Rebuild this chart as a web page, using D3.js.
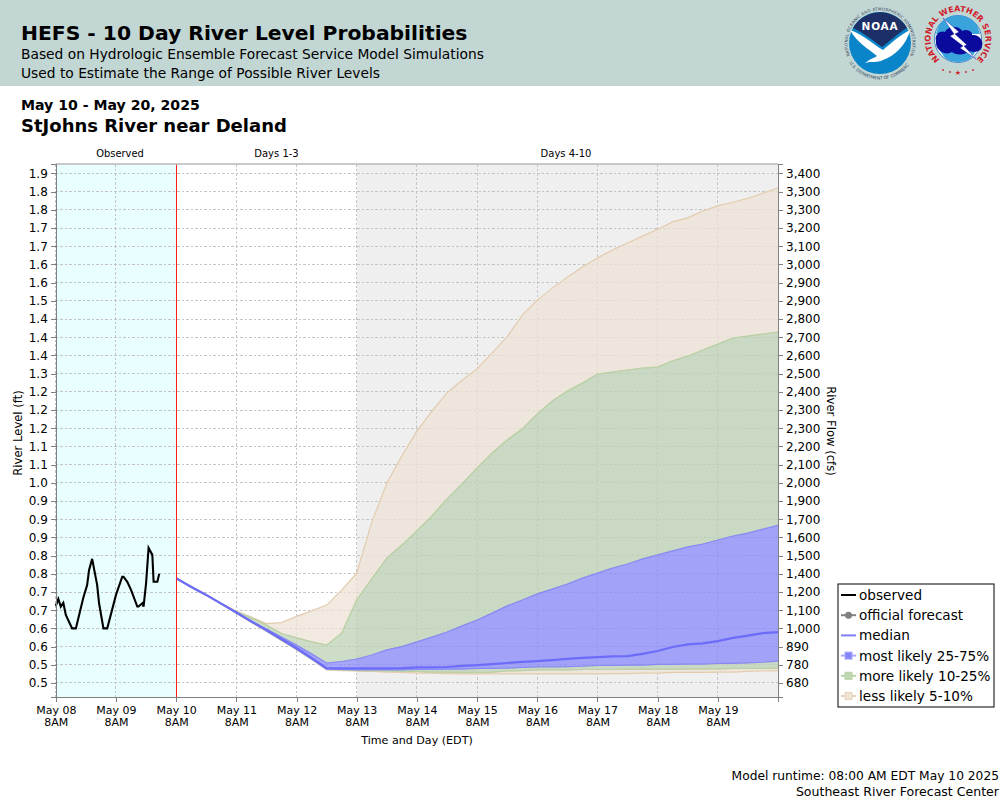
<!DOCTYPE html>
<html>
<head>
<meta charset="utf-8">
<title>HEFS - 10 Day River Level Probabilities</title>
<script src="https://cdn.jsdelivr.net/npm/d3@7"></script>
<style>
html, body { margin: 0; padding: 0; background: #fff; }
svg { display: block; font-family: "DejaVu Sans", sans-serif; }
.grid line { stroke: #c4c4c4; stroke-width: 1; stroke-dasharray: 2.5 2; shape-rendering: crispEdges; }
.axis text { font-size: 12px; fill: #000; font-family: "DejaVu Sans", sans-serif; }
.axis line, .axis path { stroke: #808080; stroke-width: 1; shape-rendering: crispEdges; }
.axis path { stroke-width: 1.5; }
</style>
</head>
<body>
<svg id="chart" width="1000" height="800"></svg>
<script>
// tick labels, bottom to top (they come rounded like this on the original)
var levelLabels = ["0.5","0.5","0.6","0.6","0.7","0.7","0.8","0.8","0.9","0.9","0.9","1.0","1.1","1.1","1.2","1.2","1.2","1.3","1.4","1.4","1.4","1.5","1.6","1.6","1.7","1.7","1.8","1.8","1.9"];
var flowLabels = ["680","780","890","1,000","1,100","1,200","1,400","1,500","1,600","1,700","1,900","2,000","2,100","2,200","2,300","2,300","2,400","2,500","2,600","2,700","2,800","2,900","2,900","3,000","3,100","3,200","3,300","3,300","3,400"];
var dayLabels = ["May 08","May 09","May 10","May 11","May 12","May 13","May 14","May 15","May 16","May 17","May 18","May 19"];

// observed stage: hours after May 08 8AM, and feet
var obsHours = [0,1,2,3,4,6.5,8,11,12.5,13.25,14.5,16.5,17.25,19,20.5,24,26.5,27,28.5,30,32.5,33,34.5,35,36,37,38.5,39,40.5,41.25];
var obsLevel = [.712,.731,.710,.720,.687,.650,.650,.735,.769,.810,.841,.769,.719,.650,.650,.742,.792,.792,.778,.756,.710,.710,.719,.710,.774,.871,.852,.778,.778,.800];

// forecast percentiles in feet, one value every 6 hours from May 10 8AM
var p95 = [.788,.765,.742,.718,.698,.681,.663,.666,.683,.698,.714,.755,.802,.942,1.049,1.124,1.192,1.247,1.297,1.332,1.363,1.407,1.451,1.511,1.552,1.585,1.615,1.643,1.668,1.690,1.709,1.728,1.747,1.767,1.778,1.797,1.811,1.821,1.832,1.846,1.860];
var p90 = [.788,.765,.742,.718,.696,.679,.659,.636,.624,.613,.604,.637,.728,.786,.843,.879,.918,.959,1.006,1.047,1.091,1.132,1.168,1.198,1.239,1.275,1.302,1.324,1.349,1.354,1.360,1.365,1.368,1.385,1.398,1.415,1.431,1.448,1.453,1.459,1.464];
var p75 = [.788,.765,.742,.718,.695,.670,.648,.626,.604,.580,.555,.559,.566,.577,.591,.600,.613,.626,.640,.657,.673,.692,.712,.728,.745,.758,.772,.788,.802,.816,.827,.841,.852,.863,.874,.882,.893,.904,.912,.923,.933];
var median = [.788,.764,.742,.718,.694,.669,.646,.621,.596,.569,.541,.540,.540,.540,.540,.541,.543,.543,.544,.547,.549,.552,.555,.558,.560,.563,.566,.569,.571,.573,.574,.580,.588,.599,.606,.609,.615,.624,.630,.637,.640];
var p25 = [.788,.764,.741,.717,.692,.668,.643,.618,.593,.566,.538,.537,.536,.536,.536,.536,.537,.537,.538,.538,.540,.540,.541,.543,.544,.544,.545,.546,.548,.548,.549,.549,.551,.551,.552,.552,.554,.554,.555,.557,.560];
var p10 = [.788,.764,.741,.717,.692,.667,.642,.617,.592,.565,.537,.536,.534,.533,.533,.532,.532,.530,.530,.529,.529,.530,.533,.534,.536,.536,.536,.537,.537,.537,.538,.538,.538,.538,.539,.539,.539,.540,.540,.540,.541];
var p05 = [.788,.764,.741,.717,.692,.667,.642,.617,.592,.565,.536,.534,.533,.532,.530,.529,.527,.527,.526,.525,.525,.525,.525,.525,.525,.525,.525,.525,.525,.526,.526,.527,.527,.529,.529,.529,.530,.530,.532,.533,.534];

var legendRows = ["observed","official forecast","median","most likely 25-75%","more likely 10-25%","less likely 5-10%"];

var TAN = "#ede3d5", TAN_LINE = "#e3cbae";
var GREEN = "#bed2b6", GREEN_LINE = "#b6d2a6";
var BLUE = "#8888fc", BLUE_LINE = "#8a8af6";

var svg = d3.select("#chart");
var left = 55.8, right = 778, top_ = 164, bottom = 697;

function hoursFrom(start, h) { return new Date(start.getTime() + h * 3600000); }
var start = new Date(Date.UTC(2025, 4, 8, 8));
var forecastStart = new Date(Date.UTC(2025, 4, 10, 8));
var days4 = new Date(Date.UTC(2025, 4, 13, 8));

var x = d3.scaleUtc().domain([start, new Date(Date.UTC(2025, 4, 20, 8))]).range([left, right]);
var y = d3.scaleLinear().domain([0.4615, 1.9261]).range([bottom, top_]);

var levelTicks = levelLabels.map(function (d, i) { return 0.5 + i * 0.05; });
var dayTicks = dayLabels.map(function (d, i) { return hoursFrom(start, i * 24); });
var times = p95.map(function (d, i) { return hoursFrom(forecastStart, i * 6); });

// header
svg.append("rect").attr("width", 1000).attr("height", 86).attr("fill", "#c2d6d4");
function label(px, py, txt, size, weight, anchor) {
    return svg.append("text").attr("x", px).attr("y", py).text(txt)
        .attr("font-size", size).attr("font-weight", weight || "normal")
        .attr("text-anchor", anchor || "start").attr("fill", "#000");
}
label(21, 40, "HEFS - 10 Day River Level Probabilities", 20.3, "bold");
label(21, 59, "Based on Hydrologic Ensemble Forecast Service Model Simulations", 13.8);
label(21, 78, "Used to Estimate the Range of Possible River Levels", 13.8);
label(21, 110, "May 10 - May 20, 2025", 14.1, "bold");
label(21, 132, "StJohns River near Deland", 18, "bold");

drawNoaa(880, 43);
drawNws(958, 39);

// plot backgrounds
svg.append("rect").attr("x", left).attr("y", top_).attr("width", x(forecastStart) - left).attr("height", bottom - top_).attr("fill", "#e9ffff");
svg.append("rect").attr("x", x(days4)).attr("y", top_).attr("width", right - x(days4)).attr("height", bottom - top_).attr("fill", "#efefef");

// grid
svg.append("g").attr("class", "grid").selectAll("line").data(levelTicks).join("line")
    .attr("x1", left).attr("x2", right).attr("y1", function (d) { return y(d); }).attr("y2", function (d) { return y(d); });
svg.append("g").attr("class", "grid").selectAll("line").data(dayTicks).join("line")
    .attr("x1", function (d) { return x(d); }).attr("x2", function (d) { return x(d); }).attr("y1", top_).attr("y2", bottom);

// bands, each one between two percentile series
function band(low, high, fill, edge) {
    var area = d3.area()
        .x(function (d, i) { return x(times[i]); })
        .y0(function (d, i) { return y(low[i]); })
        .y1(function (d, i) { return y(high[i]); });
    svg.append("path").attr("d", area(times)).attr("fill", fill).attr("fill-opacity", 0.75);
    var line = d3.line().x(function (d, i) { return x(times[i]); }).y(function (d) { return y(d); });
    svg.append("path").attr("d", line(high)).attr("fill", "none").attr("stroke", edge).attr("stroke-width", 1.2);
    svg.append("path").attr("d", line(low)).attr("fill", "none").attr("stroke", edge).attr("stroke-width", 1.2);
}
band(p90, p95, TAN, TAN_LINE);
band(p05, p10, TAN, TAN_LINE);
band(p75, p90, GREEN, GREEN_LINE);
band(p10, p25, GREEN, GREEN_LINE);
band(p25, p75, BLUE, BLUE_LINE);

// median and observed
svg.append("path")
    .attr("d", d3.line().x(function (d, i) { return x(times[i]); }).y(function (d) { return y(d); })(median))
    .attr("fill", "none").attr("stroke", "#6c6cf8").attr("stroke-width", 2.2);
svg.append("path")
    .attr("d", d3.line().x(function (d, i) { return x(hoursFrom(start, obsHours[i])); }).y(function (d) { return y(d); })(obsLevel))
    .attr("fill", "none").attr("stroke", "#000").attr("stroke-width", 2.1);

// forecast start
svg.append("line").attr("x1", x(forecastStart)).attr("x2", x(forecastStart)).attr("y1", top_).attr("y2", bottom)
    .attr("stroke", "#ff1a1a").attr("stroke-width", 1).attr("shape-rendering", "crispEdges");

// frame top edge is lighter than the axes
svg.append("line").attr("x1", left).attr("x2", right).attr("y1", top_).attr("y2", top_).attr("stroke", "#b8b8b8").attr("stroke-width", 1.4);

// axes
var leftAxis = d3.axisLeft(y).tickValues(levelTicks).tickSizeOuter(0).tickSize(5).tickPadding(3)
    .tickFormat(function (d, i) { return levelLabels[i]; });
svg.append("g").attr("class", "axis").attr("transform", "translate(" + left + ",0)").call(leftAxis);
var rightAxis = d3.axisRight(y).tickValues(levelTicks).tickSizeOuter(0).tickSize(5).tickPadding(3)
    .tickFormat(function (d, i) { return flowLabels[i]; });
svg.append("g").attr("class", "axis").attr("transform", "translate(" + right + ",0)").call(rightAxis);
var bottomAxis = d3.axisBottom(x).tickValues(dayTicks).tickSizeOuter(0).tickSize(5).tickPadding(4)
    .tickFormat(function (d, i) { return dayLabels[i]; });
var bx = svg.append("g").attr("class", "axis").attr("transform", "translate(0," + bottom + ")").call(bottomAxis);
bx.selectAll("text").style("font-size", "11px").each(function (d, i) {
    var t = d3.select(this), px = t.attr("x") || 0;
    t.text(null);
    t.append("tspan").attr("x", px).attr("dy", "0.71em").text(dayLabels[i]);
    t.append("tspan").attr("x", px).attr("dy", "12px").text("8AM");
});

// period captions and axis titles
label(120, 157, "Observed", 9.9, "normal", "middle");
label(276.5, 157, "Days 1-3", 10, "normal", "middle");
label(566, 157, "Days 4-10", 10, "normal", "middle");
label(417, 744, "Time and Day (EDT)", 11.1, "normal", "middle");
label(0, 0, "River Level (ft)", 11.6, "normal", "middle").attr("transform", "translate(22,433) rotate(-90)");
label(0, 0, "River Flow (cfs)", 11.6, "normal", "middle").attr("transform", "translate(827,431) rotate(90)");

// legend
svg.append("rect").attr("x", 838).attr("y", 584).attr("width", 156).attr("height", 123)
    .attr("fill", "#fff").attr("stroke", "#000").attr("stroke-width", 1);
var legendLine = ["#000", "#808080", "#7f7ff5", "#a8a8fb", "#b9d3aa", "#e6d2ba"];
var legendBox = [null, null, null, "#8585f8", "#bfd8b0", "#efe3d3"];
var rowY = d3.scalePoint().domain(legendRows).range([595, 696]);
legendRows.forEach(function (name, i) {
    var ry = rowY(name);
    svg.append("line").attr("x1", 841).attr("x2", 856).attr("y1", ry).attr("y2", ry)
        .attr("stroke", legendLine[i]).attr("stroke-width", 2);
    if (name === "official forecast") {
        svg.append("circle").attr("cx", 848.5).attr("cy", ry).attr("r", 3.5).attr("fill", "#808080");
    }
    if (legendBox[i]) {
        svg.append("rect").attr("x", 845).attr("y", ry - 3.5).attr("width", 7).attr("height", 7)
            .attr("fill", legendBox[i]).attr("stroke", legendLine[i]);
    }
    label(859, ry + 5, name, 13.6);
});

// footer
label(999, 780, "Model runtime: 08:00 AM EDT May 10 2025", 12.25, "normal", "end");
label(999, 796, "Southeast River Forecast Center", 12.55, "normal", "end");

// logos
// text on a circle: over the top from lower left to lower right, or under the bottom
function ringText(id, cx, cy, r, angle, overTop, txt, size, color, weight, spacing) {
    var a = angle * Math.PI / 180;
    var sx = cx - r * Math.sin(a), ex = cx + r * Math.sin(a), ay = cy - r * Math.cos(a);
    var d = "M" + sx + "," + ay + " A" + r + "," + r + " 0 " + (overTop ? "1,1 " : "0,0 ") + ex + "," + ay;
    svg.append("defs").append("path").attr("id", id).attr("d", d);
    svg.append("text").attr("font-size", size).attr("fill", color).attr("font-weight", weight || "normal")
        .attr("letter-spacing", spacing || 0).attr("text-anchor", "middle")
        .append("textPath").attr("href", "#" + id).attr("startOffset", "50%").text(txt);
}

function drawNoaa(cx, cy) {
    var g = svg.append("g").attr("transform", "translate(" + cx + "," + cy + ")");
    g.append("circle").attr("r", 31).attr("fill", "#0b85c9");
    g.append("path").attr("d", "M-27,-15 A31,31 0 0,1 27,-15 C18,-10 8,0 2,4 C-6,-2 -16,-10 -27,-15Z").attr("fill", "#1c2f66");
    g.append("path").attr("d", "M-30,-13 C-16,-8 -6,2 3,7 C11,0 20,-8 30,-13 C26,3 14,13 3,17 C-3,20 -9,18 -15,20 C-10,16 -6,15 -3,13 C-11,6 -23,0 -30,-13Z").attr("fill", "#fff");
    g.append("text").attr("y", -13).attr("text-anchor", "middle").attr("font-size", 10.5).attr("font-weight", "bold")
        .attr("letter-spacing", 0.8).attr("fill", "#fff").text("NOAA");
    ringText("noaaTop", cx, cy, 32.5, 130, true, "NATIONAL OCEANIC AND ATMOSPHERIC ADMINISTRATION", 4.1, "#33445c", "normal", 0.2);
    ringText("noaaBot", cx, cy, 36.5, 125, false, "U.S. DEPARTMENT OF COMMERCE", 4.3, "#33445c");
}

function drawNws(cx, cy) {
    var g = svg.append("g").attr("transform", "translate(" + cx + "," + cy + ")");
    g.append("circle").attr("r", 23.5).attr("fill", "#fff").attr("stroke", "#1f6fc0").attr("stroke-width", 0.8);
    g.append("path").attr("d", "M-19,-14 A23.5,23.5 0 0,1 19,-14 L22,-5 L-22,-5Z").attr("fill", "#3aa3dc");
    g.append("path").attr("d", "M-13,19 A23.5,23.5 0 0,0 13,19 L18,12 L-18,12Z").attr("fill", "#3aa3dc");
    g.append("path").attr("d", "M-22,2 C-24,-6 -16,-9 -13,-7 C-10,-14 2,-13 4,-8 C9,-11 15,-7 14,-4 C21,-5 26,2 24,7 C24,13 15,14 11,12 C6,17 -3,16 -6,13 C-12,17 -23,12 -22,2Z").attr("fill", "#0a0a9c");
    g.append("path").attr("d", "M-15,-21 L1,-7 L-3,-5 L9,6 L6,7 L18,20 L2,9 L5,7 L-8,-3 L-4,-5Z").attr("fill", "#fff").attr("stroke", "#0a0a9c").attr("stroke-width", 0.4);
    ringText("nwsTop", cx, cy, 27.5, 145, true, "NATIONAL WEATHER SERVICE", 8, "#d0202a", "bold", 0);
    g.append("text").attr("y", 36).attr("text-anchor", "middle").attr("font-size", 7).attr("fill", "#d0202a").text("★");
    g.append("circle").attr("cx", -8).attr("cy", 33).attr("r", 0.9).attr("fill", "#d0202a");
    g.append("circle").attr("cx", 8).attr("cy", 33).attr("r", 0.9).attr("fill", "#d0202a");
    g.append("circle").attr("cx", -15).attr("cy", 31).attr("r", 0.9).attr("fill", "#d0202a");
    g.append("circle").attr("cx", 15).attr("cy", 31).attr("r", 0.9).attr("fill", "#d0202a");
}
</script>
</body>
</html>
